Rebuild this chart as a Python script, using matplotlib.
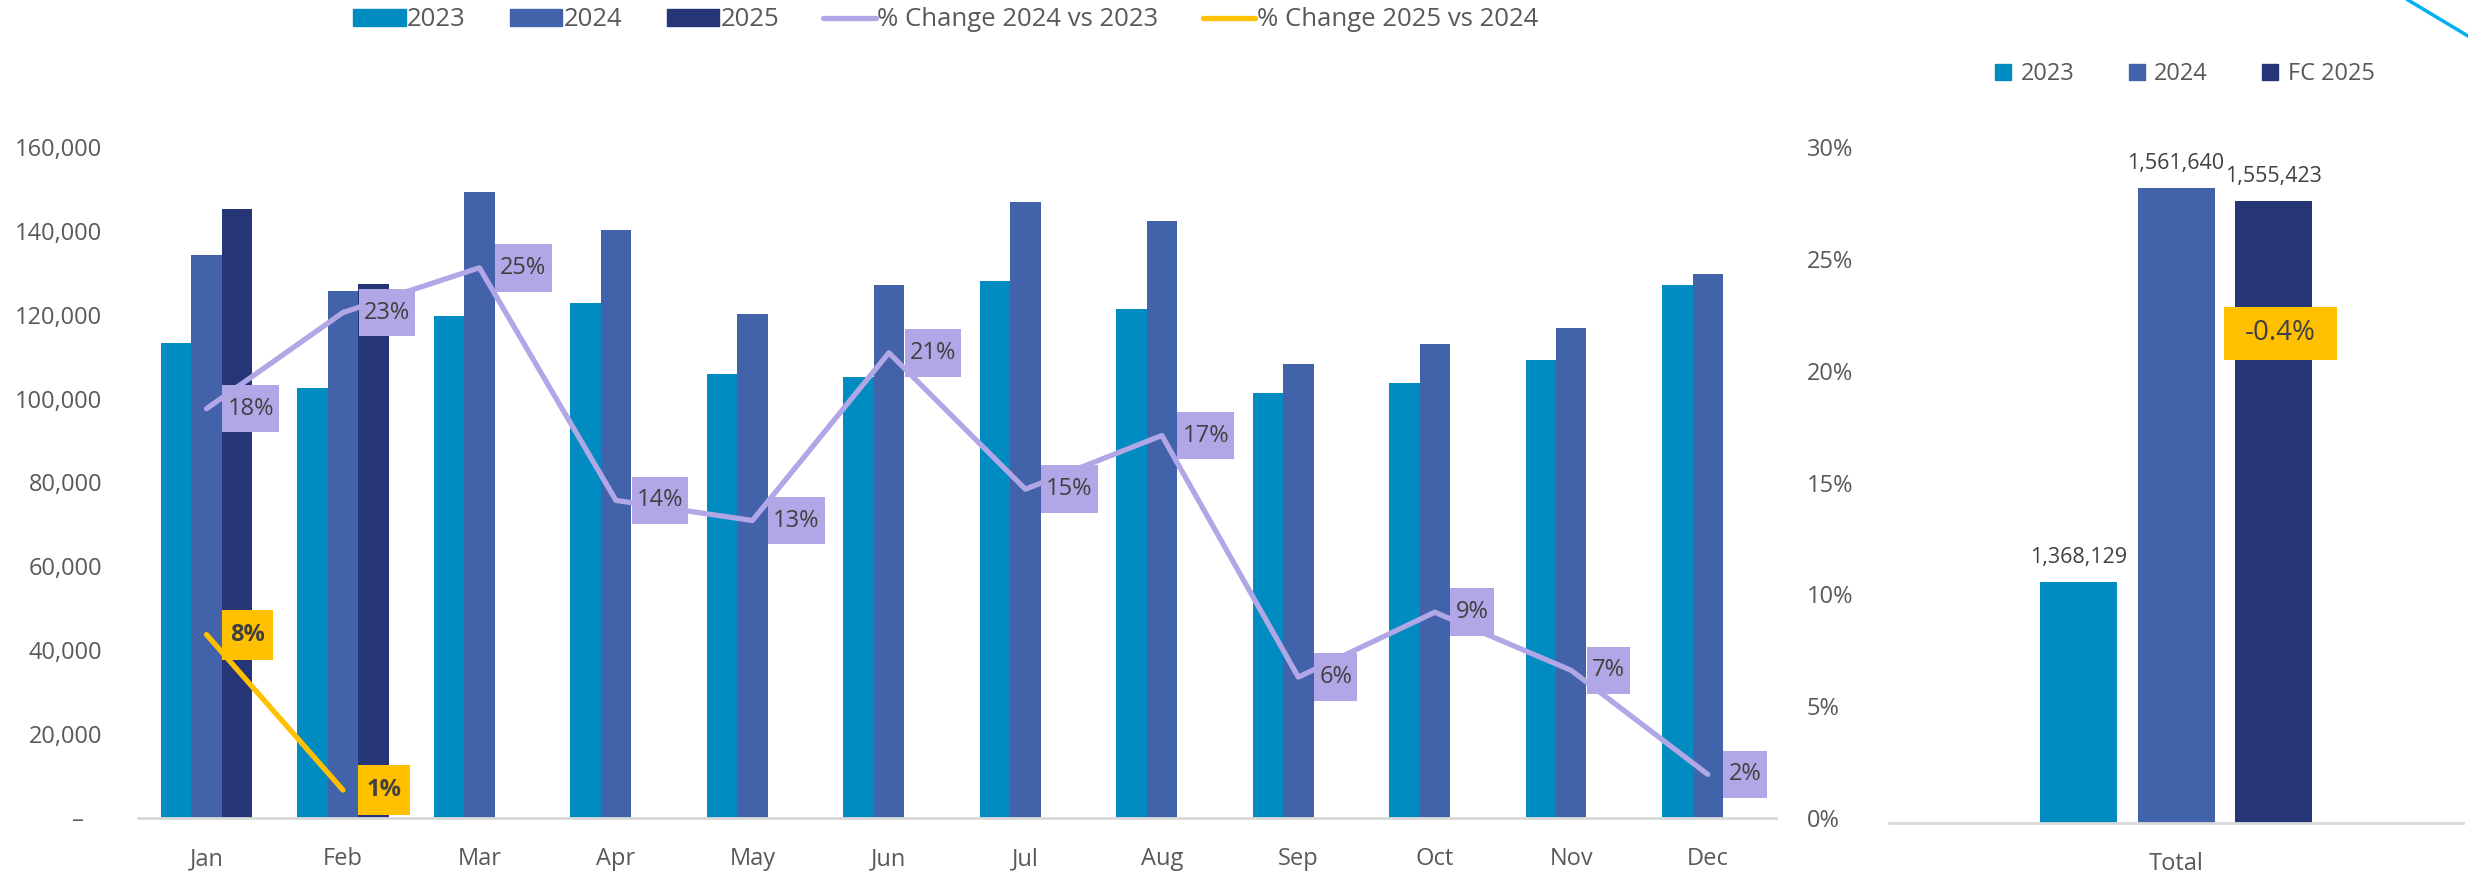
import numpy as np
import matplotlib
matplotlib.use("Agg")
import matplotlib.pyplot as plt
import matplotlib.patches as mpatches
import matplotlib.transforms as mtransforms
from matplotlib.lines import Line2D
from matplotlib.path import Path
from matplotlib.ticker import FuncFormatter

# data
months = ["Jan", "Feb", "Mar", "Apr", "May", "Jun", "Jul", "Aug", "Sep", "Oct", "Nov", "Dec"]
sales_2023 = [113300, 102500, 119700, 122800, 105900, 105200, 128100, 121300, 101400, 103700, 109300, 127000]
sales_2024 = [134200, 125700, 149300, 140100, 120200, 127000, 146900, 142300, 108200, 113100, 116800, 129600]
sales_2025 = [145200, 127300]
pct_24_vs_23 = [18.3, 22.6, 24.6, 14.2, 13.3, 20.8, 14.7, 17.1, 6.3, 9.2, 6.6, 1.95]
pct_25_vs_24 = [8.2, 1.25]

total_names = ["2023", "2024", "FC 2025"]
total_values = [1368129, 1561640, 1555423]

# colours
c23, c24, c25 = "#008BC1", "#4263A9", "#253576"
purple, yellow = "#B1A6E6", "#FFC000"
grey_txt, dark_txt, axis_col = "#595959", "#404040", "#D9D9D9"

plt.rcParams['font.family'] = ['Open Sans', 'DejaVu Sans']
fs = 17
lfs = 18.5   # top legend text

W, H = 2468, 874
fig = plt.figure(figsize=(W / 100, H / 100), dpi=100)

def px_axes(l, r, top, bottom):
    return fig.add_axes([l / W, 1 - bottom / H, (r - l) / W, (bottom - top) / H])

def label_box(padx, pady):
    # rectangle with separate horizontal / vertical padding (in font-size units)
    def box(x0, y0, width, height, mutation_scale):
        px, py = padx * mutation_scale, pady * mutation_scale
        x0, y0 = x0 - px, y0 - py
        x1, y1 = x0 + width + 2 * px, y0 + height + 2 * py
        return Path([(x0, y0), (x1, y0), (x1, y1), (x0, y1), (x0, y0)], closed=True)
    return box

# ---- monthly chart
ax = px_axes(138.25, 1776, 147, 818)
x = np.arange(len(months))
bw = 0.223
ax.bar(x - bw, sales_2023, bw, color=c23, zorder=2)
ax.bar(x, sales_2024, bw, color=c24, zorder=2)
ax.bar(x[:len(sales_2025)] + bw, sales_2025, bw, color=c25, zorder=2)
ax.set_xlim(-0.5, len(months) - 0.5)
ax.set_ylim(0, 160000)
ax.set_yticks(np.arange(0, 160001, 20000))
ax.yaxis.set_major_formatter(FuncFormatter(lambda v, p: "–   " if v == 0 else f"{int(v):,}"))
ax.set_xticks(x)
ax.set_xticklabels(months)
ax.tick_params(axis='y', length=0, pad=26, labelsize=fs, labelcolor=grey_txt)
ax.tick_params(axis='x', length=0, pad=21, labelsize=fs, labelcolor=grey_txt)
for s in ["top", "left", "right"]:
    ax.spines[s].set_visible(False)
ax.spines["bottom"].set_color(axis_col)
ax.spines["bottom"].set_linewidth(2)

ax2 = ax.twinx()
ax2.set_ylim(0, 30)
ax2.set_yticks(np.arange(0, 31, 5))
ax2.yaxis.set_major_formatter(FuncFormatter(lambda v, p: f"{int(v)}%"))
ax2.tick_params(axis='y', length=0, pad=22, labelsize=fs, labelcolor=grey_txt)
for s in ax2.spines.values():
    s.set_visible(False)

ax2.plot(x, pct_24_vs_23, color=purple, lw=3.8, solid_capstyle='round', solid_joinstyle='round', zorder=3)
ax2.plot(x[:len(pct_25_vs_24)], pct_25_vs_24, color=yellow, lw=3.8, solid_capstyle='round', zorder=3)

for xi, v in zip(x, pct_24_vs_23):
    ax2.annotate(f"{round(v)}%", (xi, v), xytext=(15, 0), textcoords='offset points',
                 ha='left', va='center', fontsize=fs, color=dark_txt, zorder=5,
                 bbox=dict(boxstyle=label_box(0.22, 0.5), fc=purple, ec='none'))
for xi, v in zip(x, pct_25_vs_24):
    ax2.annotate(f"{round(v)}%", (xi, v), xytext=(17, 0), textcoords='offset points',
                 ha='left', va='center', fontsize=fs, color=dark_txt, fontweight='bold', zorder=5,
                 bbox=dict(boxstyle=label_box(0.36, 0.55), fc=yellow, ec='none'))

handles = [mpatches.Patch(color=c23, label="2023"),
           mpatches.Patch(color=c24, label="2024"),
           mpatches.Patch(color=c25, label="2025"),
           Line2D([], [], color=purple, lw=3.8, solid_capstyle='round', label="% Change 2024 vs 2023"),
           Line2D([], [], color=yellow, lw=3.8, solid_capstyle='round', label="% Change 2025 vs 2024")]
fig.legend(handles=handles, loc='center left', bbox_to_anchor=(353 / W, 1 - 20 / H), ncol=5,
           frameon=False, fontsize=lfs, labelcolor=grey_txt, handlelength=2.05, handleheight=0.65,
           handletextpad=0.05, columnspacing=1.72, borderpad=0, borderaxespad=0)

# ---- totals panel
axr = px_axes(1889, 2463, 110, 823)
tb = 77 / 574
toff = 97.5 / 574
tcols = [c23, c24, c25]
tx = [-toff, 0, toff]
axr.bar(tx, total_values, tb, color=tcols, zorder=2)
axr.set_xlim(-0.5, 0.5)
axr.set_ylim(1250000, 1600000)
axr.set_yticks([])
axr.set_xticks([0])
axr.set_xticklabels(["Total"])
axr.tick_params(axis='x', length=0, pad=21, labelsize=fs, labelcolor=grey_txt)
for s in ["top", "left", "right"]:
    axr.spines[s].set_visible(False)
axr.spines["bottom"].set_color(axis_col)
axr.spines["bottom"].set_linewidth(2)

for xi, v in zip(tx, total_values):
    axr.annotate(f"{v:,}", (xi, v), xytext=(0, 10), textcoords='offset points',
                 ha='center', va='bottom', fontsize=15.5, color=dark_txt)

chg = (total_values[2] / total_values[1] - 1) * 100
trans = mtransforms.blended_transform_factory(axr.transData, axr.transAxes)
axr.text(toff + 0.012, 0.687, f"{chg:.1f}%", transform=trans, ha='center', va='center',
         fontsize=20, color=dark_txt, zorder=5,
         bbox=dict(boxstyle=label_box(0.75, 0.45), fc=yellow, ec='none'))

rhandles = [mpatches.Patch(color=c, label=n) for c, n in zip(tcols, total_names)]
fig.legend(handles=rhandles, loc='center left', bbox_to_anchor=(1995 / W, 1 - 74 / H), ncol=3,
           frameon=False, fontsize=fs, labelcolor=grey_txt, handlelength=0.68, handleheight=0.68,
           handletextpad=0.4, columnspacing=2.3, borderpad=0, borderaxespad=0)

# stray cyan stroke in the top-right corner
fig.add_artist(Line2D([2408 / W, 1.0], [1.0, 1 - 36 / H], transform=fig.transFigure,
                      color="#00B0F0", lw=2.5))

fig.savefig("out.png", dpi=100)
